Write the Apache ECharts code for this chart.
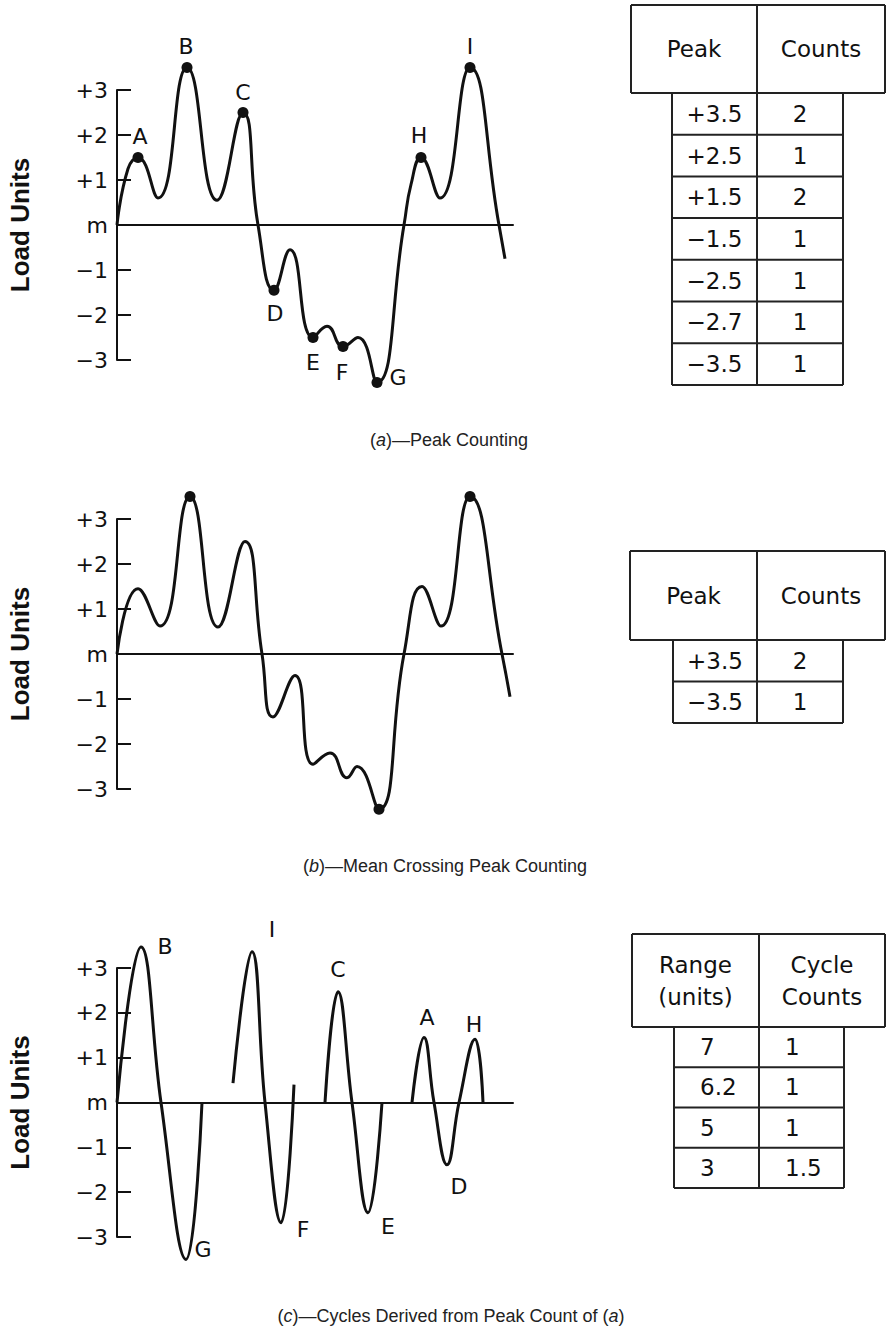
<!DOCTYPE html>
<html>
<head>
<meta charset="utf-8">
<title>Peak counting</title>
<script src="https://cdn.jsdelivr.net/npm/echarts@6.0.0/dist/echarts.min.js"></script>
<style>
  html, body { margin: 0; padding: 0; background: #fff; }
  #chart { width: 886px; height: 1327px; }
</style>
</head>
<body>
<div id="chart"></div>
<script>
// y tick labels, from -3 up to +3
const yTickLabels = ['−3', '−2', '−1', 'm', '+1', '+2', '+3'];

// (a) load history: [time, load units]
const curveA = [[0, 0], [11, 1.25], [21, 1.5], [41, 0.6], [70, 3.5], [100, 0.55], [126, 2.5], [141, 0],
  [157, -1.45], [173, -0.55], [196, -2.5], [210, -2.25], [226, -2.7], [241, -2.5], [260, -3.5],
  [287, 0], [294, 0.9], [304, 1.5], [323, 0.6], [353, 3.5], [382, 0], [388, -0.75]];
const peakIdxA = [2, 4, 6, 8, 10, 12, 14, 17, 19];
const peakNamesA = ['A', 'B', 'C', 'D', 'E', 'F', 'G', 'H', 'I'];

// (b) same history, only mean crossing peaks marked
const curveB = [[0, 0], [21, 1.45], [43, 0.62], [73, 3.5], [101, 0.6], [128, 2.5], [145, 0],
  [156, -1.4], [178, -0.48], [196, -2.45], [213, -2.2], [230, -2.75], [240, -2.5], [262, -3.45],
  [287, 0], [305, 1.5], [324, 0.62], [353, 3.5], [385, 0], [393, -0.95]];
const peakIdxB = [3, 13, 17];

// (c) cycles derived from the peaks
const cycle1 = [[0, 0], [24, 3.47], [44, 0], [69, -3.5], [85, 0]];
const cycle2 = [[116, 0.43], [135, 3.36], [148, 0], [164, -2.68], [177, 0.4]];
const cycle3 = [[208, 0], [221, 2.47], [235, 0], [251, -2.46], [265, 0]];
const cycle4 = [[295, 0], [307, 1.45], [317, 0], [330, -1.39], [342, 0], [358, 1.41], [366, 0]];
const cycles = [cycle1, cycle2, cycle3, cycle4];
const cyclePeakIdx = [[1, 3], [1, 3], [1, 3], [1, 3, 5]];
const cyclePeakNames = [['B', 'G'], ['I', 'F'], ['C', 'E'], ['A', 'D', 'H']];

// tables
const tableAPeak = ['+3.5', '+2.5', '+1.5', '−1.5', '−2.5', '−2.7', '−3.5'];
const tableACounts = ['2', '1', '2', '1', '1', '1', '1'];
const tableBPeak = ['+3.5', '−3.5'];
const tableBCounts = ['2', '1'];
const tableCRange = ['7', '6.2', '5', '3'];
const tableCCounts = ['1', '1', '1', '1.5'];

// label offsets from their point (px)
const labelOffA = { A: [2, -21], B: [-1, -21], C: [0, -20], D: [1, 23], E: [0, 25], F: [-1, 26], G: [21, -5], H: [-2, -22], I: [0, -21] };
const labelOffC = { B: [24, 0], G: [17, -10], I: [20, -22], F: [22, 7], C: [0, -22], E: [20, 14], A: [3, -20], D: [12, 22], H: [-1, -15] };

const ink = '#111';
const verdana = '"DejaVu Sans", Verdana, sans-serif';
const arial = '"Liberation Sans", Arial, sans-serif';

const panels = [{ top: 90, height: 270 }, { top: 519, height: 270 }, { top: 968, height: 269 }];

const myChart = echarts.init(document.getElementById('chart'), null, { renderer: 'svg' });

const grids = panels.map(p => ({ left: 117, width: 396, top: p.top, height: p.height, outerBoundsMode: 'none' }));
const xAxes = panels.map((p, i) => ({
  type: 'value', gridIndex: i, min: 0, max: 396,
  axisLine: { show: true, onZero: true, lineStyle: { color: ink, width: 2 } },
  axisTick: { show: false }, axisLabel: { show: false }, splitLine: { show: false }
}));
const yAxes = panels.map((p, i) => ({
  type: 'value', gridIndex: i, min: -3, max: 3, interval: 1,
  name: 'Load Units', nameLocation: 'middle', nameGap: 84, nameRotate: 90,
  nameTextStyle: { fontFamily: arial, fontWeight: 'bold', fontSize: 26, color: ink },
  axisLine: { show: true, lineStyle: { color: ink, width: 2 } },
  axisTick: { show: true, inside: true, length: 14, lineStyle: { color: ink, width: 2 } },
  axisLabel: { margin: 9, fontFamily: verdana, fontSize: 22, color: ink, formatter: v => yTickLabels[Math.round(v) + 3] },
  splitLine: { show: false }
}));

function curveSeries(data, i, smooth) {
  return {
    type: 'line', xAxisIndex: i, yAxisIndex: i, data: data, smooth: smooth,
    symbol: 'none', clip: false, silent: true,
    lineStyle: { color: ink, width: 3 }
  };
}

function dotSeries(curve, idx, names, offs, i, size) {
  return {
    type: 'scatter', xAxisIndex: i, yAxisIndex: i, clip: false, silent: true, z: 5,
    symbolSize: size,
    itemStyle: { color: size > 1 ? ink : 'rgba(0,0,0,0)', opacity: 1 },
    data: idx.map((k, j) => {
      const name = names ? names[j] : '';
      return {
        value: curve[k], name: name,
        label: names ? { show: true, position: 'inside', offset: offs[name], formatter: '{b}', color: ink, fontFamily: verdana, fontSize: 22 } : { show: false }
      };
    })
  };
}

const series = [
  curveSeries(curveA, 0, 0.5),
  dotSeries(curveA, peakIdxA, peakNamesA, labelOffA, 0, 11),
  curveSeries(curveB, 1, 0.5),
  dotSeries(curveB, peakIdxB, null, null, 1, 11)
];
cycles.forEach((c, k) => {
  series.push(curveSeries(c, 2, 0.45));
  series.push(dotSeries(c, cyclePeakIdx[k], cyclePeakNames[k], labelOffC, 2, 1));
});

// table drawn as lines and text
function tableGraphics(t) {
  const els = [];
  const line = (x1, y1, x2, y2) => els.push({ type: 'line', silent: true, shape: { x1, y1, x2, y2 }, style: { stroke: '#222', lineWidth: 2 } });
  const text = (s, x, y, align) => els.push({ type: 'text', silent: true, x: x, y: y,
    style: { text: s, font: '23px ' + verdana, fill: ink, align: align, verticalAlign: 'middle', lineHeight: 32 } });
  const n = t.col1.length;
  const yEnd = t.yH + n * t.rowH;
  line(t.x0, t.y0, t.x1, t.y0);
  line(t.x0, t.yH, t.x1, t.yH);
  line(t.x0, t.y0, t.x0, t.yH);
  line(t.x1, t.y0, t.x1, t.yH);
  line(t.divX, t.y0, t.divX, yEnd);
  line(t.bx0, t.yH, t.bx0, yEnd);
  line(t.bx1, t.yH, t.bx1, yEnd);
  for (let i = 1; i <= n; i++) line(t.bx0, t.yH + i * t.rowH, t.bx1, t.yH + i * t.rowH);
  const hy = (t.y0 + t.yH) / 2;
  text(t.head1, (t.x0 + t.divX) / 2, hy, 'center');
  text(t.head2, (t.divX + t.x1) / 2, hy, 'center');
  for (let i = 0; i < n; i++) {
    const y = t.yH + (i + 0.5) * t.rowH;
    if (t.left) {
      text(t.col1[i], t.bx0 + 26, y, 'left');
      text(t.col2[i], t.divX + 26, y, 'left');
    } else {
      text(t.col1[i], (t.bx0 + t.divX) / 2, y, 'center');
      text(t.col2[i], (t.divX + t.bx1) / 2, y, 'center');
    }
  }
  return els;
}

function caption(letter, rest, x, y) {
  return { type: 'text', silent: true, x: x, y: y,
    style: { text: '({i|' + letter + '})' + rest, fontFamily: arial, fontSize: 18, fill: '#222',
      align: 'center', verticalAlign: 'middle',
      rich: { i: { fontStyle: 'italic', fontFamily: arial, fontSize: 18, fill: '#222' } } } };
}

const graphic = [].concat(
  tableGraphics({ x0: 631, x1: 885, divX: 757, y0: 5, yH: 93, bx0: 672, bx1: 843, rowH: 41.7,
    head1: 'Peak', head2: 'Counts', col1: tableAPeak, col2: tableACounts }),
  tableGraphics({ x0: 630, x1: 885, divX: 757, y0: 551, yH: 640, bx0: 673, bx1: 843, rowH: 41.5,
    head1: 'Peak', head2: 'Counts', col1: tableBPeak, col2: tableBCounts }),
  tableGraphics({ x0: 632, x1: 885, divX: 759, y0: 934, yH: 1027, bx0: 674, bx1: 844, rowH: 40.25, left: true,
    head1: 'Range\n(units)', head2: 'Cycle\nCounts', col1: tableCRange, col2: tableCCounts }),
  [
    caption('a', '—Peak Counting', 449, 440),
    caption('b', '—Mean Crossing Peak Counting', 445, 866),
    caption('c', '—Cycles Derived from Peak Count of ({i|a})', 451, 1316)
  ]
);

const option = {
  animation: false,
  backgroundColor: '#fff',
  grid: grids,
  xAxis: xAxes,
  yAxis: yAxes,
  series: series,
  graphic: graphic
};
myChart.setOption(option);

window.addEventListener('resize', () => {
  myChart.resize();
});
</script>
</body>
</html>
